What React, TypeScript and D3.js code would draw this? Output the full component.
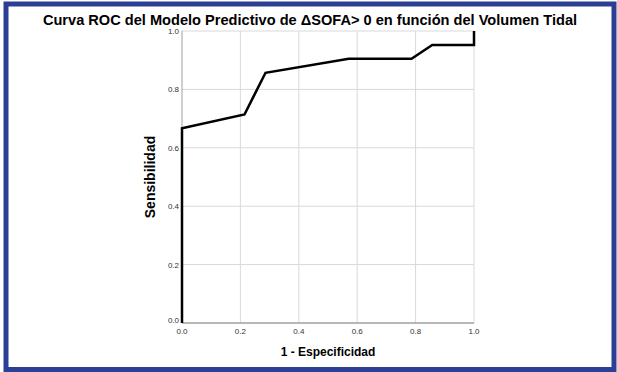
import React, {useEffect, useRef} from 'react';
import * as d3 from 'd3';

// ROC points (1 - especificidad, sensibilidad)
const fpr = [0, 0, 0.214, 0.286, 0.571, 0.786, 0.857, 1.0, 1.0];
const tpr = [0, 0.667, 0.714, 0.857, 0.905, 0.905, 0.952, 0.952, 1.0];
const tickValues = [0, 0.2, 0.4, 0.6, 0.8, 1.0];

const W = 617;
const H = 372;

const App: React.FC = () => {
  const svgRef = useRef<SVGSVGElement>(null);

  useEffect(() => {
    const svg = d3.select(svgRef.current);
    svg.selectAll('*').remove();

    // plot area
    const left = 182;
    const right = 474;
    const top = 31;
    const bottom = 323;
    const x = d3.scaleLinear().domain([0, 1]).range([left, right]);
    const y = d3.scaleLinear().domain([0, 1]).range([bottom, top]);

    svg.append('rect').attr('width', W).attr('height', H).attr('fill', '#fff');

    // frame around the picture
    svg
      .append('rect')
      .attr('x', 6)
      .attr('y', 4)
      .attr('width', W - 9)
      .attr('height', H - 6.5)
      .attr('fill', 'none')
      .attr('stroke', '#2b3f94')
      .attr('stroke-width', 5);

    const g = svg.append('g');

    // grid lines
    g.selectAll('.vgrid')
      .data(tickValues.slice(1))
      .enter()
      .append('line')
      .attr('x1', (d) => x(d))
      .attr('x2', (d) => x(d))
      .attr('y1', y(0))
      .attr('y2', y(1))
      .attr('stroke', '#d9d9d9')
      .attr('stroke-width', 1);
    g.selectAll('.hgrid')
      .data(tickValues.slice(1))
      .enter()
      .append('line')
      .attr('x1', x(0))
      .attr('x2', x(1))
      .attr('y1', (d) => y(d))
      .attr('y2', (d) => y(d))
      .attr('stroke', '#d9d9d9')
      .attr('stroke-width', 1);

    // axis lines
    g.append('line')
      .attr('x1', x(0))
      .attr('x2', x(0))
      .attr('y1', y(0))
      .attr('y2', y(1))
      .attr('stroke', '#a0a0a0');
    g.append('line')
      .attr('x1', x(0))
      .attr('x2', x(1))
      .attr('y1', y(0))
      .attr('y2', y(0))
      .attr('stroke', '#a0a0a0')
      .attr('stroke-width', 1.5);

    // tick labels
    g.selectAll('.ytick')
      .data(tickValues)
      .enter()
      .append('text')
      .attr('x', x(0) - 3)
      .attr('y', (d) => y(d) + (d === 0 ? 0 : 3))
      .attr('text-anchor', 'end')
      .attr('font-family', 'Liberation Sans, Arial, sans-serif')
      .attr('font-size', 8)
      .attr('fill', '#333')
      .text((d) => d.toFixed(1));
    g.selectAll('.xtick')
      .data(tickValues)
      .enter()
      .append('text')
      .attr('x', (d) => x(d))
      .attr('y', y(0) + 11)
      .attr('text-anchor', 'middle')
      .attr('font-family', 'Liberation Sans, Arial, sans-serif')
      .attr('font-size', 8)
      .attr('fill', '#333')
      .text((d) => d.toFixed(1));

    // ROC curve
    const line = d3
      .line<number>()
      .x((d, i) => x(fpr[i]))
      .y((d) => y(d));
    g.append('path')
      .datum(tpr)
      .attr('d', line)
      .attr('fill', 'none')
      .attr('stroke', '#000')
      .attr('stroke-width', 2.5)
      .attr('stroke-linejoin', 'miter');

    // title and axis labels
    svg
      .append('text')
      .attr('x', 310)
      .attr('y', 25)
      .attr('text-anchor', 'middle')
      .attr('font-family', 'Liberation Sans, Arial, sans-serif')
      .attr('font-weight', 'bold')
      .attr('font-size', 14.6)
      .text('Curva ROC del Modelo Predictivo de ΔSOFA> 0 en función del Volumen Tidal');
    svg
      .append('text')
      .attr('x', 328)
      .attr('y', 356)
      .attr('text-anchor', 'middle')
      .attr('font-family', 'Liberation Sans, Arial, sans-serif')
      .attr('font-weight', 'bold')
      .attr('font-size', 12)
      .text('1 - Especificidad');
    svg
      .append('text')
      .attr('transform', 'translate(155,177) rotate(-90)')
      .attr('text-anchor', 'middle')
      .attr('font-family', 'Liberation Sans, Arial, sans-serif')
      .attr('font-weight', 'bold')
      .attr('font-size', 14)
      .text('Sensibilidad');
  }, []);

  return (
    <svg
      ref={svgRef}
      width={W}
      height={H}
      style={{position: 'absolute', left: 0, top: 0, display: 'block'}}
    ></svg>
  );
};

export default App;
